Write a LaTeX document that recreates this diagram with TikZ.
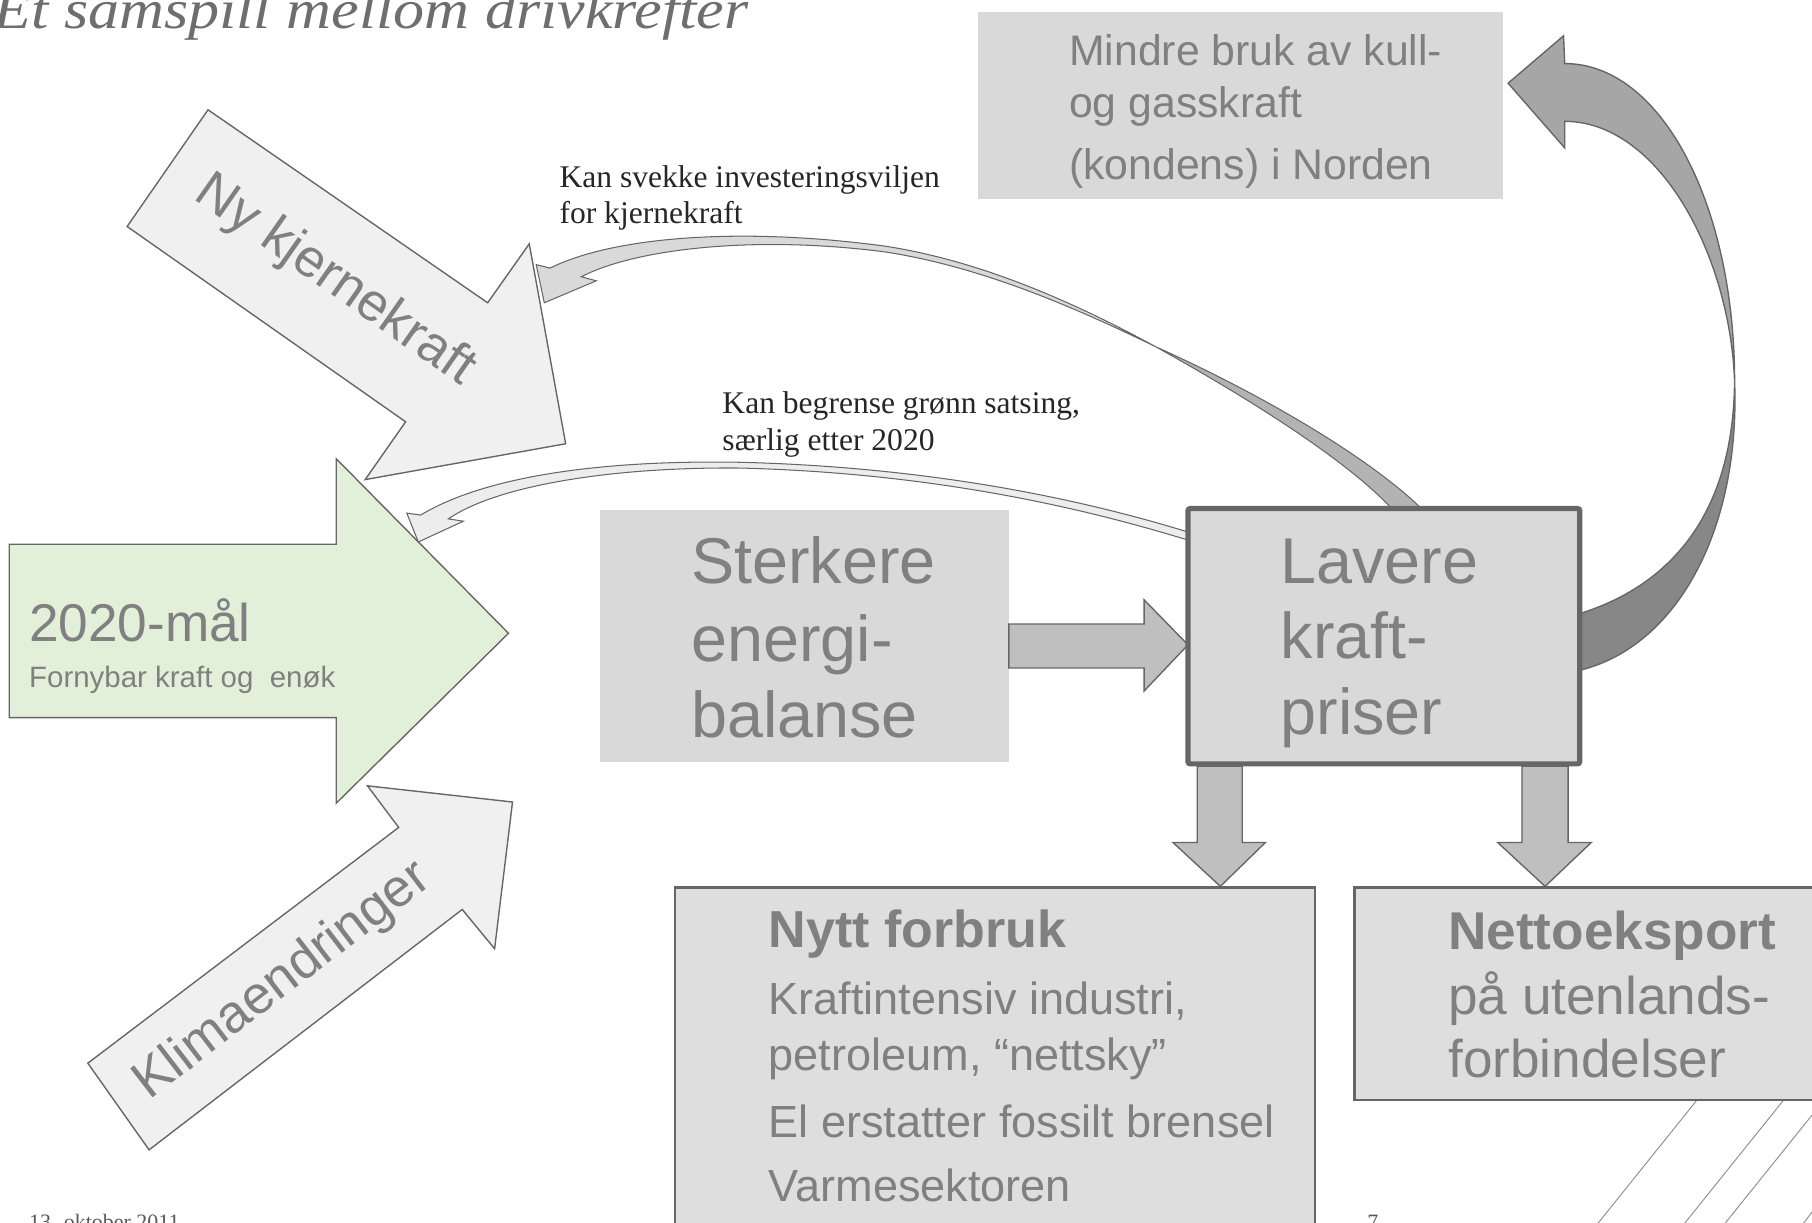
\documentclass[tikz,border=0pt]{standalone}
\usepackage{fontspec}
\setmainfont{Liberation Serif}
\newfontfamily\arial{Liberation Sans}
\definecolor{txtgray}{HTML}{808080}
\definecolor{linegray}{HTML}{666666}
\definecolor{titlegray}{HTML}{6E6E6E}
\definecolor{boxgray}{HTML}{D9D9D9}
\definecolor{boxlight}{HTML}{DEDEDE}
\definecolor{arrowlight}{HTML}{F0F0F0}
\definecolor{arrowmid}{HTML}{BFBFBF}
\definecolor{greenfill}{HTML}{E2F0D9}
\definecolor{bigupper}{HTML}{A6A6A6}
\definecolor{biglower}{HTML}{878787}
\definecolor{thindark}{HTML}{B3B3B3}
\definecolor{thinlight}{HTML}{D9D9D9}
\definecolor{thinpale}{HTML}{EDEDED}
\definecolor{decoline}{HTML}{8C8C8C}
\tikzset{
  blockarrow/.style={draw=linegray, line width=1.2pt, line join=miter},
  thinarrow/.style={draw=linegray, line width=0.9pt, line join=miter},
  txt/.style={anchor=base west, inner sep=0pt, text=txtgray},
  big/.style={txt, font=\arial\fontsize{56}{56}\selectfont},
  mid/.style={txt, font=\arial\fontsize{39}{39}\selectfont},
  midbold/.style={txt, font=\arial\bfseries\fontsize{45}{45}\selectfont},
  exp/.style={txt, font=\arial\fontsize{46}{46}\selectfont},
  small/.style={txt, font=\arial\fontsize{37}{37}\selectfont},
  note/.style={anchor=base west, inner sep=0pt, text=black!85, font=\fontsize{27.3}{27.3}\selectfont},
  foot/.style={anchor=base west, inner sep=0pt, text=black!65, font=\fontsize{19}{19}\selectfont},
  rottext/.style={anchor=center, inner sep=0pt, text=txtgray, font=\arial\fontsize{46}{46}\selectfont}
}
\begin{document}
\begin{tikzpicture}[x=1pt,y=-1pt]
\useasboundingbox (0,0) rectangle (1568,1058);
\clip (0,0) rectangle (1568,1058);

% decorative diagonal lines (behind everything)
\draw[decoline, line width=0.8pt] (1478,940) -- (1380,1062);
\draw[decoline, line width=0.8pt] (1553,940) -- (1455,1062);
\draw[decoline, line width=0.8pt] (1580,950) -- (1490,1062);
\draw[decoline, line width=0.8pt] (1580,1033) -- (1558,1062);

% title
\node[anchor=base west, inner sep=0pt, text=titlegray, font=\fontsize{48}{48}\selectfont\itshape, xscale=1.12] (title) at (-6,25) {Et samspill mellom drivkrefter};

% Mindre bruk box
\fill[boxgray] (846,10) rectangle (1301,172);
\node[small] (m1) at (925,57) {Mindre bruk av kull-};
\node[small] (m2) at (925,102) {og gasskraft};
\node[small] (m3) at (925,155) {(kondens) i Norden};

% big curved arrow (upper, light part)
\filldraw[fill=bigupper, blockarrow] (1354,55) .. controls (1438,55) and (1501,178) .. (1501,330)
   .. controls (1497,220) and (1435,105) .. (1354,105) -- (1354,128) -- (1305,72) -- (1353,31) -- cycle;
% big curved arrow (lower, dark part)
\filldraw[fill=biglower, blockarrow] (1501,330) .. controls (1506,460) and (1450,560) .. (1367,580)
   -- (1367,531) .. controls (1450,505) and (1500,440) .. (1501,330) -- cycle;

% green 2020 arrow
\filldraw[fill=greenfill, blockarrow] (8,471) -- (291,471) -- (291,397) -- (440,548) -- (291,695) -- (291,621) -- (8,621) -- cycle;
\node[txt, font=\arial\fontsize{46}{46}\selectfont] (g1) at (25,555) {2020-mål};
\node[txt, font=\arial\fontsize{25.5}{25.5}\selectfont] (g2) at (25,595) {Fornybar kraft og\ \ enøk};

% Ny kjernekraft arrow
\filldraw[fill=arrowlight, blockarrow] (180,95) -- (422,262) -- (458,211) -- (489.5,384) -- (316,415) -- (351,365) -- (110,196) -- cycle;
\node[rottext, rotate=-35] (nyk) at (290,243) {Ny kjernekraft};

% Klimaendringer arrow
\filldraw[fill=arrowlight, blockarrow] (129,995) -- (76,920) -- (345,716) -- (318,680) -- (443.5,694) -- (428,821) -- (400,787) -- cycle;
\node[rottext, rotate=37.5] (klima) at (245,849) {Klimaendringer};

% thin arrow: Kan begrense
\filldraw[fill=thinpale, thinarrow] (364,445.7) .. controls (420,412) and (520,398) .. (640,400)
   .. controls (800,404) and (930,430) .. (1030,461) -- (1030,468)
   .. controls (930,437) and (800,409) .. (640,405) .. controls (530,404) and (430,420) .. (388,449)
   -- (401,451) -- (362,469) -- (352,444) -- cycle;

% thin arrow: Kan svekke (dark part near Lavere)
\filldraw[fill=thindark, thinarrow] (1000,300) .. controls (1100,345) and (1190,400) .. (1232,442)
   -- (1206,442) .. controls (1170,402) and (1090,350) .. (1000,300) -- cycle;
% thin arrow: Kan svekke (light part with head)
\filldraw[fill=thinlight, thinarrow] (476,232) .. controls (530,205) and (640,196) .. (766,213)
   .. controls (850,226) and (930,262) .. (1000,300)
   .. controls (930,266) and (850,231) .. (766,218) .. controls (650,203) and (548,216) .. (503,239.5)
   -- (516,243) -- (471,262) -- (464,229) -- cycle;

% notes
\node[note] (sv1) at (484,162) {Kan svekke investeringsviljen};
\node[note] (sv2) at (484,193) {for kjernekraft};
\node[note] (bg1) at (625,358) {Kan begrense grønn satsing,};
\node[note] (bg2) at (625,390) {særlig etter 2020};

% Sterkere energibalanse box
\fill[boxgray] (519,441) rectangle (873,659);
\node[big] (s1) at (598,505) {Sterkere};
\node[big] (s2) at (598,572) {energi-};
\node[big] (s3) at (598,638) {balanse};

% arrow Sterkere -> Lavere
\filldraw[fill=arrowmid, blockarrow] (873,540) -- (990,540) -- (990,519) -- (1028,558) -- (990,598) -- (990,578) -- (873,578) -- cycle;

% Lavere kraftpriser box
\filldraw[fill=boxgray, draw=linegray, line width=4.5pt, rounded corners=2pt] (1028,440) rectangle (1367,661);
\node[big] (l1) at (1108,505) {Lavere};
\node[big] (l2) at (1108,570) {kraft-};
\node[big] (l3) at (1108,636) {priser};

% down arrows
\filldraw[fill=arrowmid, blockarrow] (1036,663) -- (1075,663) -- (1075,729) -- (1095,729) -- (1056,767) -- (1015,729) -- (1036,729) -- cycle;
\filldraw[fill=arrowmid, blockarrow] (1317,663) -- (1357,663) -- (1357,729) -- (1377,729) -- (1337,767) -- (1296,729) -- (1317,729) -- cycle;

% Nytt forbruk box
\filldraw[fill=boxlight, draw=linegray, line width=2pt] (584,768) rectangle (1138,1075);
\node[midbold] (n1) at (665,820) {Nytt forbruk};
\node[mid] (n2) at (665,878) {Kraftintensiv industri,};
\node[mid] (n3) at (665,926) {petroleum, “nettsky”};
\node[mid] (n4) at (665,984) {El erstatter fossilt brensel};
\node[mid] (n5) at (665,1040) {Varmesektoren};

% Nettoeksport box
\filldraw[fill=boxlight, draw=linegray, line width=2pt] (1172,768) rectangle (1590,952);
\node[midbold, font=\arial\bfseries\fontsize{46}{46}\selectfont] (e1) at (1253,822) {Nettoeksport};
\node[exp] (e2) at (1253,878) {på utenlands-};
\node[exp] (e3) at (1253,932) {forbindelser};

% footer
\node[foot] (date) at (25,1064) {13. oktober 2011};
\node[foot] (page) at (1183,1064) {7};
\end{tikzpicture}
\end{document}
